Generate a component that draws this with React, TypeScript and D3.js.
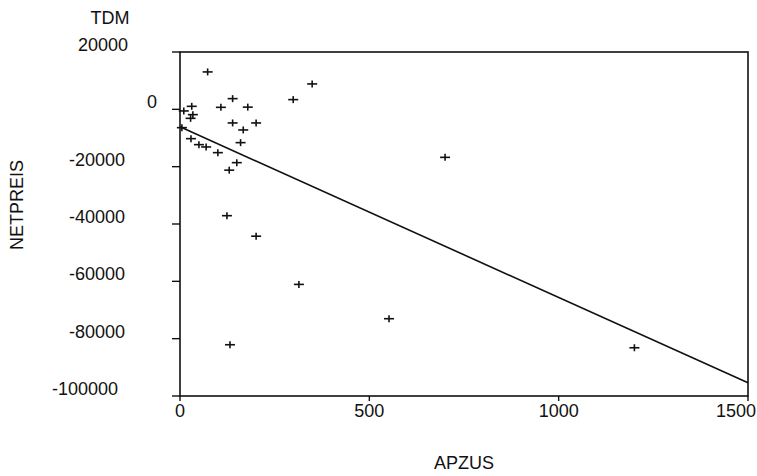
import React from "react";
import * as d3 from "d3";

// Data
const apzus = [73, 349, 139, 299, 31, 108, 179, 10, 34, 28, 139, 201, 5, 167, 29, 160, 50, 69, 100, 150, 130, 124, 201, 314, 132, 700, 552, 1200];
const netpreis = [13050, 8860, 3730, 3390, 1050, 700, 770, -560, -1850, -3140, -4750, -4750, -6390, -7190, -10230, -11620, -12320, -13120, -15110, -18600, -21220, -37100, -44250, -61070, -82120, -16750, -73040, -83170];
const fitX = [0, 1500];
const fitY = [-6100, -95400];
const xTicks = [0, 500, 1000, 1500];
const yTicks = [20000, 0, -20000, -40000, -60000, -80000, -100000];

const W = 757;
const H = 476;
const left = 180;
const right = 748;
const top = 52;
const bottom = 396;
const FONT = "'Liberation Sans', Arial, Helvetica, sans-serif";

function yLabelAnchor(t: number) {
  if (t === 0) return 157;
  if (t === 20000) return 128;
  if (t === -100000) return 118;
  return 125;
}

export default function App() {
  const x = d3.scaleLinear().domain([0, 1500]).range([left, right]);
  const y = d3.scaleLinear().domain([-100000, 20000]).range([bottom, top]);
  const line = d3
    .line<number>()
    .x((_, i) => x(fitX[i]))
    .y((d) => y(d));
  const pts = apzus.map((a, i) => [a, netpreis[i]]);

  return (
    <svg
      width={W}
      height={H}
      style={{ position: "absolute", left: 0, top: 0, background: "#fff" }}
      fontFamily={FONT}
    >
      <rect x={0} y={0} width={W} height={H} fill="#fff" />
      {/* frame */}
      <rect x={left} y={top} width={right - left} height={bottom - top} fill="none" stroke="#111" strokeWidth={1.6} />
      {/* y ticks */}
      {yTicks.map((t) => (
        <g key={"y" + t}>
          <line x1={left - 8} x2={left} y1={y(t)} y2={y(t)} stroke="#111" strokeWidth={1.4} />
          <text
            x={yLabelAnchor(t)}
            y={y(t) - 7}
            textAnchor="end"
            dominantBaseline="central"
            fontSize={18}
            fill="#111"
          >
            {String(t)}
          </text>
        </g>
      ))}
      {/* x ticks */}
      {xTicks.map((t) => (
        <g key={"x" + t}>
          <line x1={x(t)} x2={x(t)} y1={bottom} y2={bottom + 5} stroke="#111" strokeWidth={1.4} />
          <text
            x={t === 1500 ? x(t) - 12 : x(t)}
            y={411}
            textAnchor="middle"
            dominantBaseline="central"
            fontSize={18}
            fill="#111"
          >
            {String(t)}
          </text>
        </g>
      ))}
      {/* regression line */}
      <path d={line(fitY) || ""} fill="none" stroke="#111" strokeWidth={1.6} />
      {/* points */}
      {pts.map(([a, b], i) => {
        const cx = x(a);
        const cy = y(b);
        return (
          <g key={"p" + i} stroke="#111" strokeWidth={1.6}>
            <line x1={cx - 5} x2={cx + 5} y1={cy} y2={cy} />
            <line x1={cx} x2={cx} y1={cy - 3.5} y2={cy + 3.5} />
          </g>
        );
      })}
      {/* titles */}
      <text x={110} y={18} textAnchor="middle" dominantBaseline="central" fontSize={18} fill="#111">
        TDM
      </text>
      <text
        transform={`translate(17,205) rotate(-90)`}
        textAnchor="middle"
        dominantBaseline="central"
        fontSize={18}
        fill="#111"
      >
        NETPREIS
      </text>
      <text x={464} y={463} textAnchor="middle" dominantBaseline="central" fontSize={18} fill="#111">
        APZUS
      </text>
    </svg>
  );
}
